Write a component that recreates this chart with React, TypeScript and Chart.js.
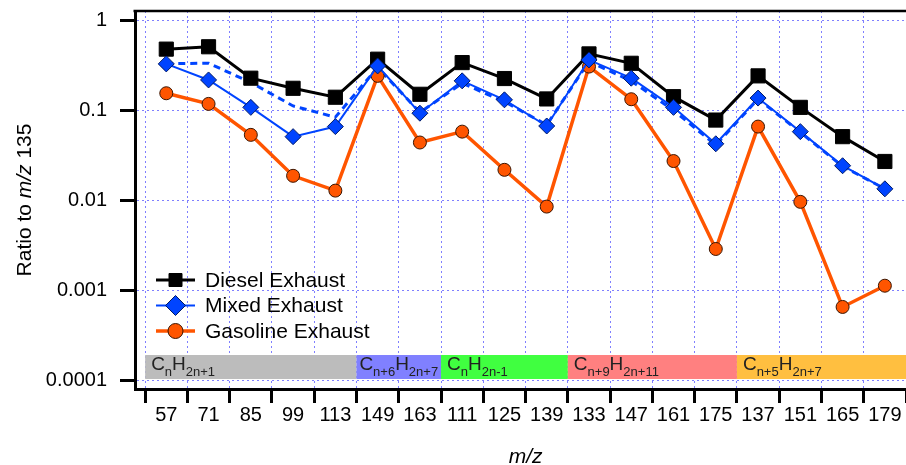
import React, { useEffect, useRef } from 'react';
import { Chart, registerables } from 'chart.js';

Chart.register(...registerables);

const FONT = "'Liberation Sans', Arial, Helvetica, sans-serif";

// m/z of each fragment, ordered by ion series
const mzLabels = ['57', '71', '85', '99', '113', '149', '163', '111', '125', '139', '133', '147', '161', '175', '137', '151', '165', '179'];

// signal ratio to m/z 135
const dieselRatio = [0.48, 0.51, 0.228, 0.176, 0.14, 0.371, 0.151, 0.34, 0.226, 0.134, 0.425, 0.334, 0.142, 0.078, 0.242, 0.108, 0.051, 0.027];
const mixedRatio = [0.329, 0.218, 0.108, 0.051, 0.066, 0.312, 0.093, 0.213, 0.131, 0.067, 0.364, 0.228, 0.108, 0.0425, 0.137, 0.058, 0.0242, 0.0134];
const gasolineRatio = [0.155, 0.118, 0.0534, 0.0187, 0.0128, 0.242, 0.0439, 0.058, 0.0218, 0.0085, 0.307, 0.133, 0.0273, 0.00287, 0.066, 0.0096, 0.00065, 0.00112];
// linear combination of the diesel and gasoline profiles
const mixedModelRatio = [0.33, 0.335, 0.204, 0.112, 0.084, 0.3, 0.095, 0.2, 0.125, 0.069, 0.35, 0.212, 0.1, 0.041, 0.134, 0.057, 0.0238, 0.0134];

const yTickValues = [0.0001, 0.001, 0.01, 0.1, 1];
const yTickLabels = ['0.0001', '0.001', '0.01', '0.1', '1'];

// ion series bands along the bottom of the plot
const seriesFirstIndex = [0, 5, 7, 10, 14];
const seriesLastIndex = [4, 6, 9, 13, 17];
const seriesCarbonSub = ['n', 'n+6', 'n', 'n+9', 'n+5'];
const seriesHydrogenSub = ['2n+1', '2n+7', '2n-1', '2n+11', '2n+7'];
const seriesColors = ['#bcbcbc', '#8080ff', '#40ff40', '#ff8080', '#ffbf40'];

const legendNames = ['Diesel Exhaust', 'Mixed Exhaust', 'Gasoline Exhaust'];

const BLACK = '#000000';
const BLUE = '#0044ff';
const ORANGE = '#ff5500';
const GRID = '#7f7fff';

type Marker = 'square' | 'diamond' | 'circle';

function drawMarker(ctx: CanvasRenderingContext2D, kind: Marker, cx: number, cy: number, r: number, fill: string, stroke: string) {
  ctx.beginPath();
  if (kind === 'square') {
    ctx.rect(cx - r, cy - r, 2 * r, 2 * r);
  } else if (kind === 'diamond') {
    ctx.moveTo(cx - r, cy);
    ctx.lineTo(cx, cy - r);
    ctx.lineTo(cx + r, cy);
    ctx.lineTo(cx, cy + r);
    ctx.closePath();
  } else {
    ctx.arc(cx, cy, r, 0, Math.PI * 2);
  }
  ctx.fillStyle = fill;
  ctx.fill();
  ctx.lineWidth = 1;
  ctx.strokeStyle = stroke;
  ctx.setLineDash([]);
  ctx.stroke();
}

const decorPlugin = {
  id: 'decor',
  beforeDatasetsDraw(chart: any) {
    const { ctx, scales } = chart;
    const x = scales.x;
    const y = scales.y;
    const bandBottom = y.getPixelForValue(1e-4) - 1;
    const bandTop = bandBottom - 24;
    ctx.save();
    seriesFirstIndex.forEach((first, g) => {
      const left = x.getPixelForValue(first - 0.5);
      const right = x.getPixelForValue(seriesLastIndex[g] + 0.5);
      ctx.fillStyle = seriesColors[g];
      ctx.fillRect(left, bandTop, right - left, bandBottom - bandTop);

      // chemical formula, e.g. CnH2n+1
      const parts: [string, boolean][] = [
        ['C', false],
        [seriesCarbonSub[g], true],
        ['H', false],
        [seriesHydrogenSub[g], true],
      ];
      ctx.textAlign = 'left';
      ctx.textBaseline = 'alphabetic';
      let width = 0;
      parts.forEach(([text, sub]) => {
        ctx.font = sub ? `13px ${FONT}` : `19px ${FONT}`;
        width += ctx.measureText(text).width;
      });
      let cx = left + Math.max(0.5, Math.min(6, (right - left - width) / 2));
      ctx.fillStyle = '#222222';
      parts.forEach(([text, sub]) => {
        ctx.font = sub ? `13px ${FONT}` : `19px ${FONT}`;
        ctx.fillText(text, cx, sub ? bandBottom - 3 : bandBottom - 9);
        cx += ctx.measureText(text).width;
      });
    });
    ctx.restore();
  },
  afterDatasetsDraw(chart: any) {
    const { ctx, chartArea } = chart;
    const lineX0 = chartArea.left + 21;
    const lineX1 = chartArea.left + 60;
    const textX = chartArea.left + 70;
    const rowY = [280, 305.5, 331];
    const colors = [BLACK, BLUE, ORANGE];
    const widths = [3, 2, 3.5];
    const markers: Marker[] = ['square', 'diamond', 'circle'];
    const radii = [6.5, 10, 7.5];
    const strokes = [BLACK, '#001a66', '#3a1500'];
    ctx.save();
    legendNames.forEach((name, i) => {
      const yy = rowY[i];
      ctx.beginPath();
      ctx.setLineDash([]);
      ctx.strokeStyle = colors[i];
      ctx.lineWidth = widths[i];
      ctx.moveTo(lineX0, yy);
      ctx.lineTo(lineX1, yy);
      ctx.stroke();
      drawMarker(ctx, markers[i], (lineX0 + lineX1) / 2, yy, radii[i], colors[i], strokes[i]);
      ctx.fillStyle = '#000';
      ctx.font = `21px ${FONT}`;
      ctx.textAlign = 'left';
      ctx.textBaseline = 'middle';
      ctx.fillText(name, textX, yy + 1);
    });
    ctx.restore();
  },
  afterDraw(chart: any) {
    const { ctx, chartArea, scales } = chart;
    ctx.save();
    // frame line along the top of the plot
    ctx.beginPath();
    ctx.strokeStyle = '#000';
    ctx.lineWidth = 2.5;
    ctx.moveTo(chartArea.left - 1.5, chartArea.top);
    ctx.lineTo(chartArea.right, chartArea.top);
    ctx.stroke();

    // x axis title
    const x = scales.x;
    const midX = (x.getPixelForValue(-0.5) + x.getPixelForValue(mzLabels.length - 0.5)) / 2;
    ctx.fillStyle = '#000';
    ctx.font = `italic 21px ${FONT}`;
    ctx.textAlign = 'center';
    ctx.textBaseline = 'alphabetic';
    ctx.fillText('m/z', midX, 463);

    // y axis title with italic m/z
    const pieces: [string, boolean][] = [['Ratio to ', false], ['m/z', true], [' 135', false]];
    let total = 0;
    pieces.forEach(([t, it]) => {
      ctx.font = `${it ? 'italic ' : ''}21px ${FONT}`;
      total += ctx.measureText(t).width;
    });
    const midY = (chartArea.top + chartArea.bottom) / 2;
    ctx.translate(31, midY);
    ctx.rotate(-Math.PI / 2);
    ctx.textAlign = 'left';
    let u = -total / 2;
    pieces.forEach(([t, it]) => {
      ctx.font = `${it ? 'italic ' : ''}21px ${FONT}`;
      ctx.fillText(t, u, 0);
      u += ctx.measureText(t).width;
    });
    ctx.restore();
  },
};

const toPoints = (vals: number[]) => vals.map((v, i) => ({ x: i, y: v }));

export default function App() {
  const canvasRef = useRef<HTMLCanvasElement>(null);

  useEffect(() => {
    const canvas = canvasRef.current;
    if (!canvas) return;
    Chart.defaults.font.family = FONT;
    const chart = new Chart(canvas, {
      type: 'line',
      data: {
        datasets: [
          {
            label: 'Mixed Exhaust',
            data: toPoints(mixedRatio),
            borderColor: BLUE,
            borderWidth: 2,
            pointStyle: 'rectRot',
            pointRadius: 8,
            pointBackgroundColor: BLUE,
            pointBorderColor: '#001a66',
            pointBorderWidth: 1,
            tension: 0,
            order: 0,
          },
          {
            label: 'Diesel Exhaust',
            data: toPoints(dieselRatio),
            borderColor: BLACK,
            borderWidth: 3,
            pointStyle: 'rect',
            pointRadius: 10,
            pointBackgroundColor: BLACK,
            pointBorderColor: BLACK,
            pointBorderWidth: 1,
            tension: 0,
            order: 1,
          },
          {
            label: 'Gasoline Exhaust',
            data: toPoints(gasolineRatio),
            borderColor: ORANGE,
            borderWidth: 3.5,
            pointStyle: 'circle',
            pointRadius: 6.5,
            pointBackgroundColor: ORANGE,
            pointBorderColor: '#3a1500',
            pointBorderWidth: 1,
            tension: 0,
            order: 2,
          },
          {
            label: 'Mixed (calculated)',
            data: toPoints(mixedModelRatio),
            borderColor: BLUE,
            borderWidth: 3,
            borderDash: [7, 5],
            pointRadius: 0,
            tension: 0,
            order: 3,
          },
        ],
      },
      options: {
        responsive: false,
        animation: false,
        events: [],
        layout: { autoPadding: false, padding: { top: 11, right: 0, bottom: 0, left: 0 } },
        plugins: {
          legend: { display: false },
          tooltip: { enabled: false },
        },
        scales: {
          x: {
            type: 'linear',
            position: 'bottom',
            min: -0.74,
            max: 17.5,
            bounds: 'data',
            afterBuildTicks: (s: any) => {
              s.ticks = mzLabels.map((_, i) => ({ value: i }));
            },
            afterFit: (s: any) => {
              s.height = 76;
              s.paddingLeft = 0;
              s.paddingRight = 0;
            },
            grid: {
              color: GRID,
              lineWidth: 1,
              offset: true,
              tickLength: 14,
              tickWidth: 3,
              tickColor: BLACK,
              tickBorderDash: [],
            },
            border: { display: true, color: BLACK, width: 3, dash: [2, 3] },
            ticks: {
              autoSkip: false,
              maxRotation: 0,
              minRotation: 0,
              padding: 0,
              color: BLACK,
              font: { size: 20, family: FONT },
              callback: (_v: any, i: number) => mzLabels[i],
            },
          },
          y: {
            type: 'logarithmic',
            position: 'left',
            min: Math.pow(10, -4.1),
            max: Math.pow(10, 0.1055),
            bounds: 'data',
            afterBuildTicks: (s: any) => {
              s.ticks = yTickValues.map((v) => ({ value: v }));
            },
            afterFit: (s: any) => {
              s.width = 135;
              s.paddingTop = 0;
              s.paddingBottom = 0;
            },
            grid: {
              color: GRID,
              lineWidth: 1,
              tickLength: 15,
              tickWidth: 3,
              tickColor: BLACK,
              tickBorderDash: [],
            },
            border: { display: true, color: BLACK, width: 3, dash: [2, 3] },
            ticks: {
              padding: 13,
              color: BLACK,
              font: { size: 20, family: FONT },
              callback: (_v: any, i: number) => yTickLabels[i],
            },
          },
        },
      },
      plugins: [decorPlugin],
    } as any);
    return () => chart.destroy();
  }, []);

  return (
    <div style={{ position: 'fixed', left: 0, top: 0, width: 906, height: 465, background: '#ffffff' }}>
      <canvas ref={canvasRef} width={906} height={465} style={{ display: 'block', width: 906, height: 465 }} />
    </div>
  );
}
